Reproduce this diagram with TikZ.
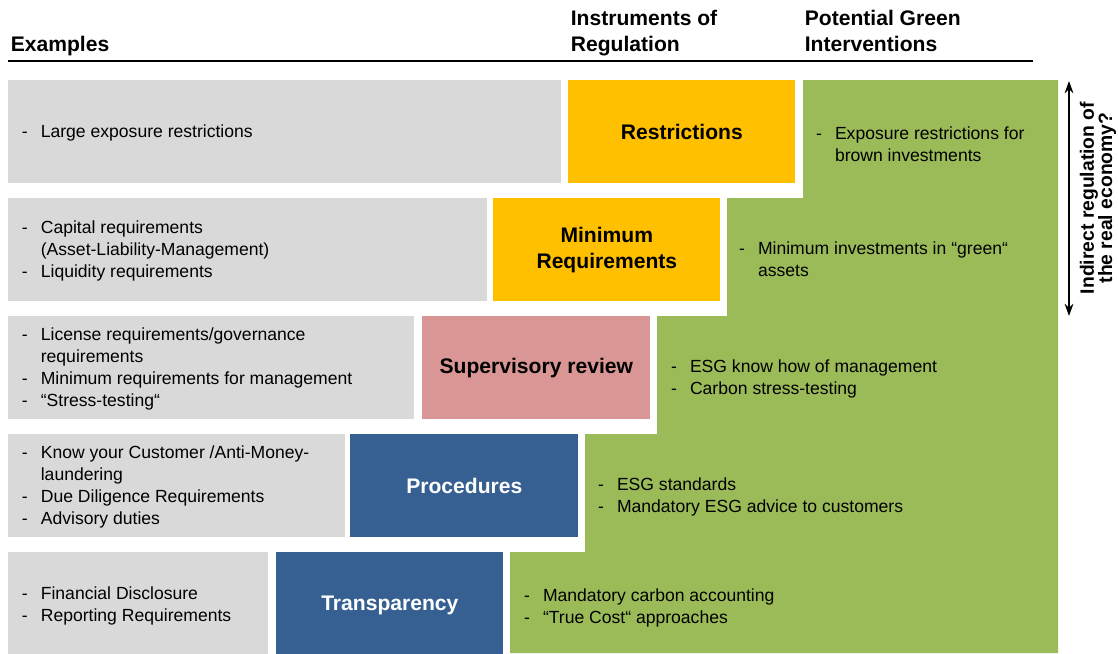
\documentclass[tikz,border=0pt]{standalone}
\usepackage{fontspec}
\setmainfont{Liberation Sans}
\usetikzlibrary{positioning}
\usetikzlibrary{arrows.meta}
\usepackage{xcolor}
\definecolor{greybg}{HTML}{D9D9D9}
\definecolor{yellowbg}{HTML}{FFC000}
\definecolor{pinkbg}{HTML}{D99694}
\definecolor{bluebg}{HTML}{376092}
\definecolor{greenbg}{HTML}{9BBB59}
\newcommand{\dashlist}[1]{\begin{tabular}{@{}p{0.38cm}@{}l@{}}#1\end{tabular}}

\begin{document}
\begin{tikzpicture}[x=0.02cm, y=-0.02cm,
    box/.style={rectangle, inner sep=0pt, anchor=north west, minimum height=2.06cm},
    greybox/.style={box, fill=greybg},
    instr/.style={box, minimum width=4.54cm, align=center, font=\fontsize{12}{14.7}\selectfont\bfseries},
    listtext/.style={anchor=west, inner sep=0pt, yshift=-0.03cm, font=\fontsize{10}{12.5}\selectfont},
    header/.style={anchor=west, inner sep=0pt, align=left, font=\fontsize{12}{14.7}\selectfont\bfseries}]
    \useasboundingbox (0,0) rectangle (1118,653);

    % Column headers
    \node[header] (hexamples) at (10.5,46) {Examples};
    \node[header] (hinstr) at (570.5,33) {Instruments of\\Regulation};
    \node[header] (hgreen) at (804.5,31) {Potential Green\\Interventions};
    \coordinate (ruleL) at (8,61);
    \coordinate (ruleR) at (1033,61);
    \draw[semithick] (ruleL) -- (ruleR);

    % Green staircase
    \fill[greenbg] (803,80) -- (1058,80) -- (1058,653) -- (510,653) -- (510,552) -- (585,552)
        -- (585,434) -- (657,434) -- (657,316) -- (727,316) -- (727,198) -- (803,198) -- cycle;

    % Row 1
    \node[greybox, minimum width=11.06cm] (exrestr) at (8,80) {};
    \node[instr, fill=yellowbg] (restr) at (568,80) {Restrictions};
    \node[listtext, xshift=0.27cm] (lrestr) at (exrestr.west) {\dashlist{- & Large exposure restrictions}};
    \node[listtext, xshift=0.4cm, yshift=-0.25cm] (grestr) at (restr.east) {\dashlist{- & Exposure restrictions for\\ & brown investments}};

    % Row 2
    \node[greybox, minimum width=9.58cm] (exminreq) at (8,198) {};
    \node[instr, fill=yellowbg] (minreq) at (493,198) {Minimum\\Requirements};
    \node[listtext, xshift=0.27cm] (lminreq) at (exminreq.west) {\dashlist{- & Capital requirements\\ & (Asset-Liability-Management)\\- & Liquidity requirements}};
    \node[listtext, xshift=0.36cm, yshift=-0.19cm] (gminreq) at (minreq.east) {\dashlist{- & Minimum investments in “green“\\ & assets}};

    % Row 3
    \node[greybox, minimum width=8.12cm] (exsuperv) at (8,316) {};
    \node[instr, fill=pinkbg, minimum width=4.56cm] (superv) at (422,316) {Supervisory review};
    \node[listtext, xshift=0.27cm] (lsuperv) at (exsuperv.west) {\dashlist{- & License requirements/governance\\ & requirements\\- & Minimum requirements for management\\- & “Stress-testing“}};
    \node[listtext, xshift=0.4cm, yshift=-0.19cm] (gsuperv) at (superv.east) {\dashlist{- & ESG know how of management\\- & Carbon stress-testing}};

    % Row 4
    \node[greybox, minimum width=6.74cm] (exproc) at (8,434) {};
    \node[instr, fill=bluebg, text=white, minimum width=4.56cm] (proc) at (350,434) {Procedures};
    \node[listtext, xshift=0.27cm] (lproc) at (exproc.west) {\dashlist{- & Know your Customer /Anti-Money-\\ & laundering\\- & Due Diligence Requirements\\- & Advisory duties}};
    \node[listtext, xshift=0.38cm, yshift=-0.19cm] (gproc) at (proc.east) {\dashlist{- & ESG standards\\- & Mandatory ESG advice to customers}};

    % Row 5
    \node[greybox, minimum width=5.2cm, minimum height=2.14cm] (extransp) at (8,552) {};
    \node[instr, fill=bluebg, text=white, minimum height=2.14cm] (transp) at (276,552) {Transparency};
    \node[listtext, xshift=0.27cm, yshift=0.02cm] (ltransp) at (extransp.west) {\dashlist{- & Financial Disclosure\\- & Reporting Requirements}};
    \node[listtext, xshift=0.4cm, yshift=-0.02cm] (gtransp) at (transp.east) {\dashlist{- & Mandatory carbon accounting\\- & “True Cost“ approaches}};

    % Side arrow
    \coordinate (arrtop) at (1069,81);
    \coordinate (arrbot) at (1069,316);
    \draw[{Stealth[length=7pt,width=5pt]}-{Stealth[length=7pt,width=5pt]}, thick] (arrtop) -- (arrbot);
    \node[rotate=90, align=center, inner sep=0pt, font=\fontsize{11}{10.5}\selectfont\bfseries] (indirect) at (1098,198) {Indirect regulation of\\the real economy?};
\end{tikzpicture}
\end{document}
